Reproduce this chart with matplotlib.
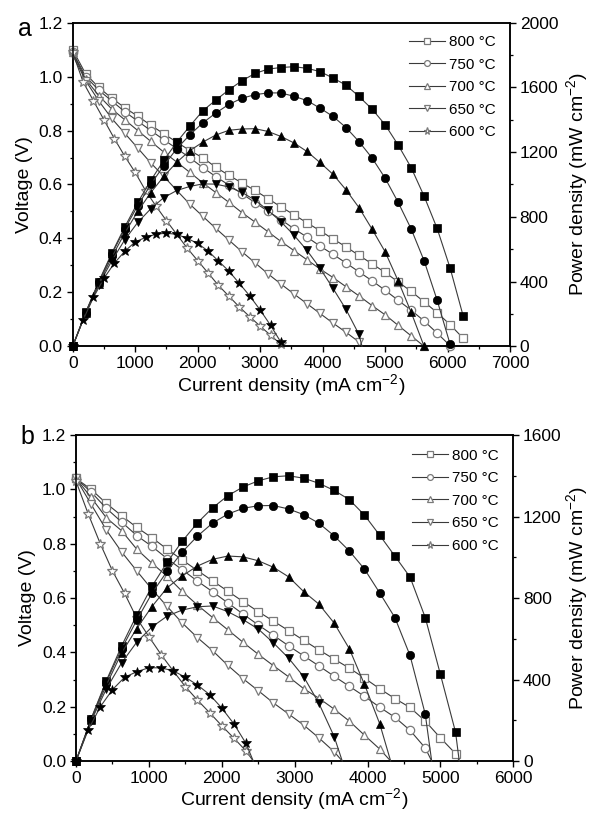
import matplotlib
matplotlib.use("Agg")
import matplotlib.pyplot as plt
from matplotlib.ticker import MultipleLocator, FormatStrFormatter

plt.rcParams['font.family'] = ['Liberation Sans', 'DejaVu Sans']
plt.rcParams['mathtext.default'] = 'regular'

# ---------------- data ----------------
temps = ['800 °C', '750 °C', '700 °C', '650 °C', '600 °C']
markers = ['s', 'o', '^', 'v', '*']
msizes = [5.5, 6, 6, 6, 7.5]

current_208 = [0, 208, 417, 625, 833, 1042, 1250, 1458, 1667, 1875, 2083, 2292, 2500, 2708,
               2917, 3125, 3333, 3542, 3750, 3958, 4167, 4375, 4583, 4792, 5000, 5208, 5417,
               5625, 5833, 6042, 6250]
current_167 = [0, 167, 333, 500, 667, 833, 1000, 1167, 1333, 1500, 1667, 1833, 2000, 2167,
               2333, 2500, 2667, 2833, 3000, 3167, 3333]

# panel a
a_v_800 = [1.10, 1.01, 0.96, 0.92, 0.885, 0.853, 0.82, 0.788, 0.757, 0.726, 0.699, 0.664, 0.634,
           0.606, 0.578, 0.548, 0.517, 0.488, 0.458, 0.429, 0.398, 0.369, 0.337, 0.306, 0.274,
           0.239, 0.204, 0.165, 0.125, 0.080, 0.030]
a_p_800 = [0, 210, 400, 575, 737, 889, 1025, 1149, 1262, 1361, 1456, 1522, 1585, 1641, 1686,
           1713, 1723, 1728, 1718, 1698, 1658, 1614, 1544, 1466, 1370, 1245, 1105, 928, 729, 483, 188]
a_v_750 = [1.09, 1.0, 0.95, 0.91, 0.87, 0.835, 0.80, 0.766, 0.733, 0.699, 0.663, 0.629, 0.598,
           0.566, 0.533, 0.501, 0.470, 0.436, 0.405, 0.372, 0.341, 0.309, 0.276, 0.243, 0.208,
           0.171, 0.134, 0.094, 0.049, 0.002]
a_p_750 = [0, 208, 396, 569, 725, 870, 1000, 1117, 1222, 1307, 1381, 1442, 1495, 1533, 1555,
           1566, 1566, 1545, 1519, 1472, 1421, 1352, 1265, 1164, 1040, 891, 726, 529, 286, 12]
a_v_700 = [1.09, 0.99, 0.93, 0.88, 0.84, 0.80, 0.76, 0.72, 0.683, 0.645, 0.606, 0.570, 0.534,
           0.496, 0.461, 0.425, 0.389, 0.355, 0.321, 0.287, 0.255, 0.221, 0.187, 0.151, 0.117,
           0.078, 0.039, 0.0]
a_p_700 = [0, 206, 388, 550, 700, 834, 950, 1050, 1138, 1209, 1262, 1306, 1335, 1343, 1345,
           1328, 1297, 1257, 1204, 1136, 1063, 967, 857, 724, 585, 406, 211, 0]
a_v_650 = [1.08, 0.985, 0.91, 0.845, 0.79, 0.735, 0.68, 0.63, 0.578, 0.527, 0.482, 0.437, 0.394,
           0.351, 0.310, 0.269, 0.231, 0.194, 0.158, 0.122, 0.086, 0.052, 0.016]
a_p_650 = [0, 205, 379, 528, 658, 766, 850, 919, 963, 988, 1004, 1002, 985, 951, 904, 841, 770,
           687, 593, 483, 358, 228, 73]
a_v_600 = [1.09, 0.98, 0.91, 0.84, 0.77, 0.705, 0.645, 0.577, 0.52, 0.466, 0.415, 0.364, 0.318,
           0.272, 0.226, 0.186, 0.146, 0.110, 0.075, 0.041, 0.0075]
a_p_600 = [0, 163, 303, 420, 514, 587, 645, 673, 693, 699, 692, 667, 636, 589, 527, 465, 389,
           312, 225, 130, 25]
a_end = [None, None, None, 4631, None]   # current where the drawn line meets zero

# panel b
b_v_800 = [1.04, 1.0, 0.948, 0.903, 0.86, 0.822, 0.78, 0.74, 0.701, 0.663, 0.625, 0.587, 0.550,
           0.515, 0.480, 0.444, 0.409, 0.375, 0.342, 0.305, 0.266, 0.230, 0.197, 0.147, 0.085, 0.027]
b_p_800 = [0, 208, 395, 564, 716, 857, 975, 1079, 1169, 1243, 1302, 1345, 1375, 1395, 1400,
           1388, 1363, 1328, 1283, 1207, 1108, 1006, 903, 704, 425, 141]
b_v_750 = [1.04, 0.99, 0.93, 0.88, 0.83, 0.79, 0.745, 0.704, 0.662, 0.623, 0.582, 0.541, 0.501,
           0.463, 0.424, 0.387, 0.350, 0.312, 0.275, 0.238, 0.198, 0.161, 0.113, 0.048]
b_p_750 = [0, 206, 388, 550, 691, 823, 931, 1026, 1104, 1168, 1212, 1240, 1253, 1254, 1237,
           1209, 1167, 1105, 1031, 942, 825, 704, 518, 230]
b_v_700 = [1.04, 0.97, 0.895, 0.848, 0.78, 0.728, 0.68, 0.624, 0.574, 0.528, 0.483, 0.437,
           0.393, 0.351, 0.310, 0.266, 0.231, 0.191, 0.147, 0.095, 0.044]
b_p_700 = [0, 202, 373, 530, 650, 758, 850, 909, 957, 990, 1006, 1002, 983, 951, 904, 831, 770,
           677, 551, 376, 183]
b_v_650 = [1.04, 0.945, 0.85, 0.77, 0.70, 0.632, 0.569, 0.508, 0.454, 0.406, 0.352, 0.303,
           0.259, 0.214, 0.173, 0.132, 0.085, 0.034]
b_p_650 = [0, 197, 354, 481, 583, 658, 711, 741, 757, 761, 733, 694, 648, 580, 505, 413, 283, 120]
b_v_600 = [1.03, 0.91, 0.80, 0.70, 0.617, 0.526, 0.458, 0.392, 0.332, 0.274, 0.224, 0.178,
           0.130, 0.084, 0.037]
b_p_600 = [0, 152, 266, 350, 411, 438, 458, 457, 443, 411, 373, 326, 260, 182, 86]
b_end = [5258, 4880, 4317, 3653, 2432]

panels = [
    dict(letter='a', letter_y=0.98, v=[a_v_800, a_v_750, a_v_700, a_v_650, a_v_600],
         p=[a_p_800, a_p_750, a_p_700, a_p_650, a_p_600], end=a_end,
         xmax=7000, pmax=2000, rect=[0.1232, 0.5756, 0.7412, 0.3966], leg=(0.968, 0.962),
         rpad=4),
    dict(letter='b', letter_y=0.995, v=[b_v_800, b_v_750, b_v_700, b_v_650, b_v_600],
         p=[b_p_800, b_p_750, b_p_700, b_p_650, b_p_600], end=b_end,
         xmax=6000, pmax=1600, rect=[0.1288, 0.0674, 0.7412, 0.3995], leg=(0.967, 0.958),
         rpad=2),
]
grids = [current_208, current_208, current_208, current_208, current_167]

# ---------------- styling ----------------
TICK_FS = 12.5
LAB_FS = 14
LINE = '#3a3a3a'
OPEN_EDGE = '#7a7a7a'

fig = plt.figure(figsize=(5.9, 8.16), dpi=100)

for pan in panels:
    ax = fig.add_axes(pan['rect'])
    ax2 = ax.twinx()
    handles = []
    for k in range(5):
        n = len(pan['v'][k])
        cur = grids[k][:n]
        vv = list(pan['v'][k])
        pp = list(pan['p'][k])
        if pan['end'][k] is not None:
            cur = cur + [pan['end'][k]]
            vv = vv + [0]
            pp = pp + [0]
        me = list(range(n))
        h, = ax.plot(cur, vv, color=LINE, lw=0.8, marker=markers[k], ms=msizes[k],
                     mfc='white', mec=OPEN_EDGE, mew=0.9, markevery=me, label=temps[k],
                     clip_on=False, zorder=3)
        ax2.plot(cur, pp, color=LINE, lw=0.8, marker=markers[k], ms=msizes[k],
                 mfc='black', mec='black', mew=0.5, markevery=me, clip_on=False, zorder=3)
        handles.append(h)

    ax.set_xlim(0, pan['xmax'])
    ax.set_ylim(0, 1.2)
    ax2.set_ylim(0, pan['pmax'])
    ax.xaxis.set_major_locator(MultipleLocator(1000))
    ax.xaxis.set_minor_locator(MultipleLocator(500))
    ax.yaxis.set_major_locator(MultipleLocator(0.2))
    ax.yaxis.set_minor_locator(MultipleLocator(0.1))
    ax2.yaxis.set_major_locator(MultipleLocator(400))
    ax2.yaxis.set_minor_locator(MultipleLocator(200))
    ax.yaxis.set_major_formatter(FormatStrFormatter('%.1f'))

    for a in (ax, ax2):
        for s in a.spines.values():
            s.set_linewidth(1.1)
        a.tick_params(which='major', direction='out', length=4, width=1.0,
                      labelsize=TICK_FS, pad=3)
        a.tick_params(which='minor', direction='out', length=2.3, width=0.9)
    ax.tick_params(which='both', top=False, right=False)
    ax2.tick_params(which='both', left=False, top=False, bottom=False, labelbottom=False)

    ax.set_xlabel('Current density (mA cm$^{-2}$)', fontsize=LAB_FS, labelpad=0.5)
    ax.set_ylabel('Voltage (V)', fontsize=LAB_FS, labelpad=4)
    ax2.set_ylabel('Power density (mW cm$^{-2}$)', fontsize=LAB_FS, labelpad=pan['rpad'])

    ax.text(-0.126, pan['letter_y'], pan['letter'], transform=ax.transAxes, fontsize=18,
            ha='left', va='center')

    ax2.legend(handles=handles, loc='upper right', bbox_to_anchor=pan['leg'],
               frameon=False, fontsize=11, handlelength=2.4, handletextpad=0.25,
               labelspacing=0.56, borderaxespad=0.0, borderpad=0.0, markerscale=0.7)

fig.savefig('out.png', dpi=100)
